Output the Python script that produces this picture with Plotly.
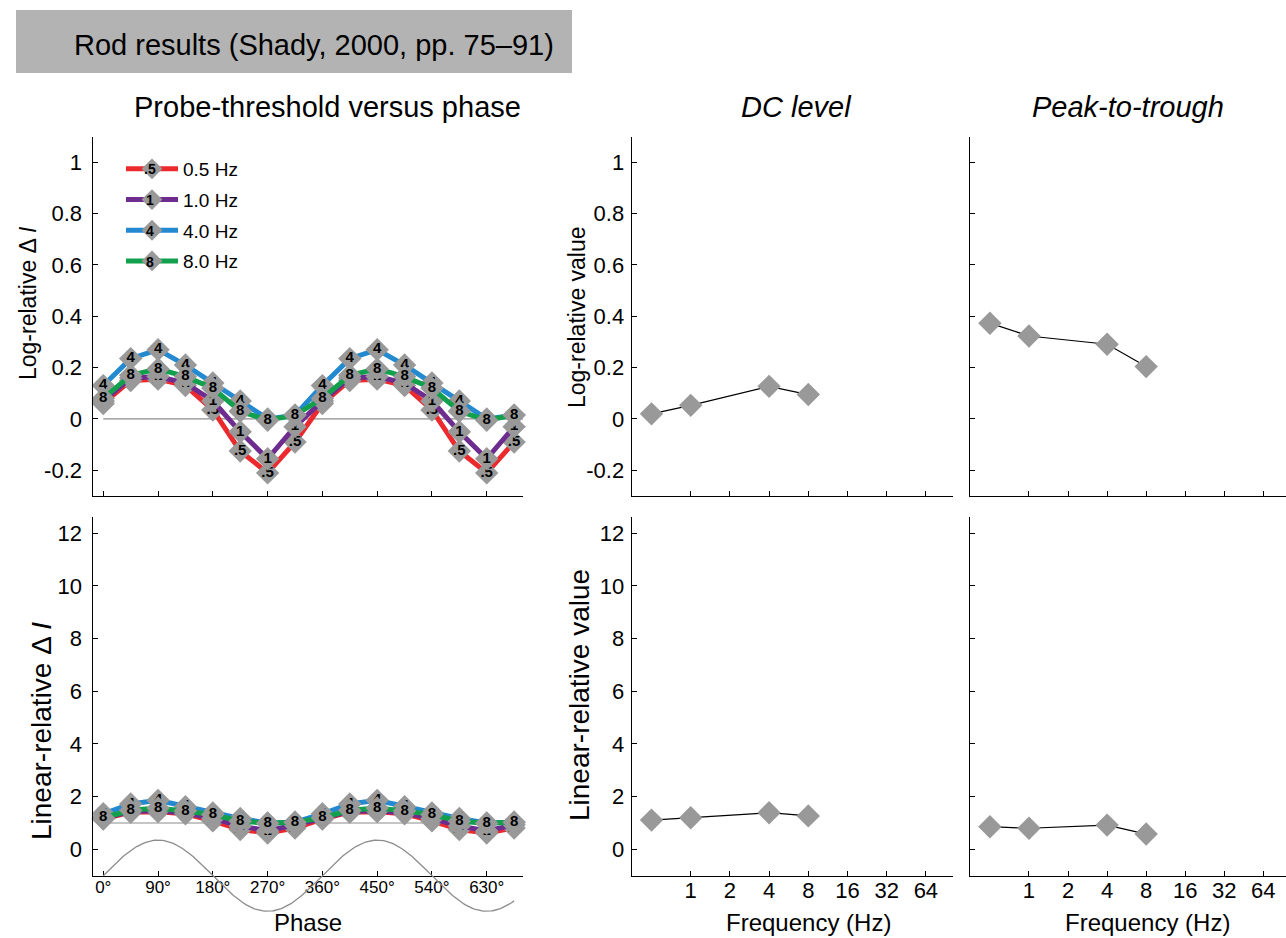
import numpy as np
import plotly.graph_objects as go

W, H = 1286, 938
FONT = "Liberation Sans, Arial, Helvetica, sans-serif"

# ---------------- data ----------------
phase_deg = [0, 45, 90, 135, 180, 225, 270, 315, 360, 405, 450, 495, 540, 585, 630, 675]
phase_ticks = [0, 90, 180, 270, 360, 450, 540, 630]
phase_ticktext = ["0°", "90°", "180°", "270°", "360°", "450°", "540°", "630°"]

series_names = ["0.5 Hz", "1.0 Hz", "4.0 Hz", "8.0 Hz"]
series_labels = [".5", "1", "4", "8"]
series_colors = ["#ec2a2e", "#6d2c8e", "#2389d0", "#12a04c"]

# log-relative probe threshold (delta I) per phase
log_05 = [0.06, 0.15, 0.155, 0.13, 0.035, -0.125, -0.21, -0.09,
          0.06, 0.15, 0.155, 0.13, 0.035, -0.125, -0.21, -0.09]
log_1 = [0.07, 0.16, 0.165, 0.14, 0.07, -0.05, -0.155, -0.03,
         0.07, 0.16, 0.165, 0.14, 0.07, -0.05, -0.155, -0.03]
log_4 = [0.13, 0.235, 0.27, 0.21, 0.14, 0.07, 0.0, 0.015,
         0.13, 0.235, 0.27, 0.21, 0.14, 0.07, 0.0, 0.015]
log_8 = [0.08, 0.17, 0.195, 0.165, 0.12, 0.03, -0.005, 0.015,
         0.08, 0.17, 0.195, 0.165, 0.12, 0.03, -0.005, 0.015]

# linear-relative probe threshold (delta I) per phase
lin_05 = [1.15, 1.41, 1.43, 1.35, 1.08, 0.75, 0.62, 0.81,
          1.15, 1.41, 1.43, 1.35, 1.08, 0.75, 0.62, 0.81]
lin_1 = [1.17, 1.45, 1.46, 1.38, 1.17, 0.89, 0.70, 0.93,
         1.17, 1.45, 1.46, 1.38, 1.17, 0.89, 0.70, 0.93]
lin_4 = [1.35, 1.72, 1.86, 1.62, 1.38, 1.17, 1.00, 1.03,
         1.35, 1.72, 1.86, 1.62, 1.38, 1.17, 1.00, 1.03]
lin_8 = [1.20, 1.48, 1.57, 1.46, 1.32, 1.07, 0.99, 1.03,
         1.20, 1.48, 1.57, 1.46, 1.32, 1.07, 0.99, 1.03]

freq_hz = [0.5, 1, 4, 8]
freq_ticks = [1, 2, 4, 8, 16, 32, 64]
dc_log = [0.02, 0.053, 0.127, 0.095]
pt_log = [0.373, 0.323, 0.291, 0.204]
dc_lin = [1.11, 1.20, 1.39, 1.27]
pt_lin = [0.86, 0.80, 0.92, 0.58]

log_ticks = [-0.2, 0, 0.2, 0.4, 0.6, 0.8, 1]
log_ticktext = ["-0.2", "0", "0.2", "0.4", "0.6", "0.8", "1"]
lin_ticks = [0, 2, 4, 6, 8, 10, 12]
lin_ticktext = ["0", "2", "4", "6", "8", "10", "12"]
log_baseline = 0
lin_baseline = 1

# stimulus (sinusoidal modulation) drawn under the linear panel
stim_offset = -1.0
stim_amp = 1.35
stim_phase = np.linspace(0, 675, 271)
stim_wave = stim_offset + stim_amp * np.sin(np.deg2rad(stim_phase))

log_series = [log_05, log_1, log_4, log_8]
lin_series = [lin_05, lin_1, lin_4, lin_8]

# ---------------- layout helpers ----------------
def fx(p):
    return p / W

def fy(p):
    return 1 - p / H

LEFT = [fx(92.5), fx(523)]
MID = [fx(631.7), fx(953.3)]
RIGHT = [fx(970), 1.0]
TOP = [fy(496), fy(136.5)]
BOT = [fy(875.7), fy(517.3)]
STIM = [fy(920), fy(517.3)]

PHASE_RANGE = [-17.7, 689.6]
LOG_RANGE = [-0.3, 1.1]
LIN_RANGE = [-1.0, 12.6]
STIM_RANGE = [LIN_RANGE[1] - (920 - 517.3) / (875.7 - 517.3) * (LIN_RANGE[1] - LIN_RANGE[0]), LIN_RANGE[1]]
FREQ_RANGE_MID = [np.log10(2 ** -1.505), np.log10(2 ** 6.70)]
FREQ_RANGE_RIGHT = [np.log10(2 ** -1.51), np.log10(2 ** 6.58)]

fig = go.Figure()

# stimulus waveform (own hidden axes, drawn first so data sit above it)
fig.add_trace(go.Scatter(x=stim_phase, y=stim_wave, mode="lines",
                         line=dict(color="#8c8c8c", width=1.3),
                         xaxis="x7", yaxis="y7", showlegend=False, hoverinfo="skip"))

# baselines
fig.add_trace(go.Scatter(x=[phase_deg[0], PHASE_RANGE[1]], y=[log_baseline, log_baseline],
                         mode="lines", line=dict(color="#8c8c8c", width=1.2),
                         xaxis="x", yaxis="y", showlegend=False, hoverinfo="skip"))
fig.add_trace(go.Scatter(x=[phase_deg[0], PHASE_RANGE[1]], y=[lin_baseline, lin_baseline],
                         mode="lines", line=dict(color="#8c8c8c", width=1.2),
                         xaxis="x4", yaxis="y4", showlegend=False, hoverinfo="skip"))

marker = dict(symbol="diamond", size=18, color="#999999", line=dict(width=0))
tfont = dict(family=FONT, size=15, color="black", weight="bold")

for name, lab, col, lv, linv in zip(series_names, series_labels, series_colors, log_series, lin_series):
    fig.add_trace(go.Scatter(x=phase_deg, y=lv, mode="lines+markers+text", name=name,
                             legendgroup=name,
                             text=[lab] * len(phase_deg), textposition="middle center",
                             textfont=tfont, line=dict(color=col, width=5),
                             marker=marker, xaxis="x", yaxis="y", cliponaxis=False))
    fig.add_trace(go.Scatter(x=phase_deg, y=linv, mode="lines+markers+text", name=name,
                             legendgroup=name, showlegend=False,
                             text=[lab] * len(phase_deg), textposition="middle center",
                             textfont=tfont, line=dict(color=col, width=5),
                             marker=marker, xaxis="x4", yaxis="y4", cliponaxis=False))

fmarker = dict(symbol="diamond", size=18, color="#999999", line=dict(width=0))
fline = dict(color="black", width=1.2)
for xa, ya, vals in [("x2", "y2", dc_log), ("x3", "y3", pt_log),
                     ("x5", "y5", dc_lin), ("x6", "y6", pt_lin)]:
    fig.add_trace(go.Scatter(x=freq_hz, y=vals, mode="lines+markers", line=fline,
                             marker=fmarker, xaxis=xa, yaxis=ya, showlegend=False,
                             cliponaxis=False))

axis_common = dict(showline=True, linecolor="black", linewidth=1.2, ticks="inside",
                   ticklen=5, tickcolor="black", tickwidth=1, showgrid=False,
                   zeroline=False, mirror=False,
                   tickfont=dict(family=FONT, size=22, color="black"))

def phase_axis(anchor, labels):
    d = dict(axis_common, domain=LEFT, range=PHASE_RANGE, anchor=anchor,
             tickmode="array", tickvals=phase_ticks, ticktext=phase_ticktext,
             showticklabels=labels, ticklabelstandoff=-4)
    d["tickfont"] = dict(family=FONT, size=17, color="black")
    return d

def freq_axis(anchor, dom, rng, labels):
    return dict(axis_common, type="log", domain=dom, range=rng, anchor=anchor,
                tickmode="array", tickvals=freq_ticks,
                ticktext=[str(v) for v in freq_ticks], showticklabels=labels,
                ticklabelstandoff=-5,
                tickfont=dict(family=FONT, size=22, color="black"))

def val_axis(anchor, dom, rng, ticks, ttext, labels, standoff=5):
    return dict(axis_common, domain=dom, range=rng, anchor=anchor,
                tickmode="array", tickvals=ticks, ticktext=ttext,
                showticklabels=labels, ticklabelstandoff=standoff)

fig.update_layout(
    width=W, height=H, margin=dict(l=0, r=0, t=0, b=0),
    paper_bgcolor="white", plot_bgcolor="rgba(0,0,0,0)",
    font=dict(family=FONT, color="black"),
    xaxis=phase_axis("y", False),
    yaxis=val_axis("x", TOP, LOG_RANGE, log_ticks, log_ticktext, True),
    xaxis2=freq_axis("y2", MID, FREQ_RANGE_MID, False),
    yaxis2=val_axis("x2", TOP, LOG_RANGE, log_ticks, log_ticktext, True, 2),
    xaxis3=freq_axis("y3", RIGHT, FREQ_RANGE_RIGHT, False),
    yaxis3=val_axis("x3", TOP, LOG_RANGE, log_ticks, log_ticktext, False),
    xaxis4=phase_axis("y4", True),
    yaxis4=val_axis("x4", BOT, LIN_RANGE, lin_ticks, lin_ticktext, True),
    xaxis5=freq_axis("y5", MID, FREQ_RANGE_MID, True),
    yaxis5=val_axis("x5", BOT, LIN_RANGE, lin_ticks, lin_ticktext, True, 2),
    xaxis6=freq_axis("y6", RIGHT, FREQ_RANGE_RIGHT, True),
    yaxis6=val_axis("x6", BOT, LIN_RANGE, lin_ticks, lin_ticktext, False),
    xaxis7=dict(domain=LEFT, range=PHASE_RANGE, anchor="y7", visible=False),
    yaxis7=dict(domain=STIM, range=STIM_RANGE, anchor="x7", visible=False),
    showlegend=True,
    legend=dict(x=fx(121), y=fy(150), xanchor="left", yanchor="top",
                bgcolor="rgba(0,0,0,0)", font=dict(family=FONT, size=19, color="black"),
                traceorder="grouped", tracegroupgap=3, itemwidth=52),
)

annotations = []
def text_at(px, py, txt, size, xanchor="center", angle=0, italic=False):
    annotations.append(dict(x=fx(px), y=fy(py), xref="paper", yref="paper", text=txt,
                            showarrow=False, xanchor=xanchor, yanchor="middle",
                            textangle=angle,
                            font=dict(family=FONT, size=size, color="black",
                                      style="italic" if italic else "normal")))

text_at(72, 45, "Rod results (Shady, 2000, pp. 75–91)", 29, xanchor="left")
text_at(327, 107, "Probe-threshold versus phase", 29)
text_at(796, 107, "DC level", 29, italic=True)
text_at(1128, 107, "Peak-to-trough", 29, italic=True)
text_at(28, 303, "Log-relative Δ <i>I</i>", 23, angle=-90)
text_at(41, 731, "Linear-relative Δ <i>I</i>", 28, angle=-90)
text_at(577, 317, "Log-relative value", 23, angle=-90)
text_at(579, 695, "Linear-relative value", 28, angle=-90)
text_at(308, 922, "Phase", 24)
text_at(808, 922, "Frequency (Hz)", 24)
text_at(1147, 922, "Frequency (Hz)", 24)

# numbers on legend symbols
for i, lab in enumerate(series_labels):
    annotations.append(dict(x=fx(150), y=fy(169 + 31 * i), xref="paper", yref="paper",
                            text=lab, showarrow=False, xanchor="center", yanchor="middle",
                            font=dict(family=FONT, size=14, color="black", weight="bold")))

fig.update_layout(annotations=annotations)

fig.add_shape(type="rect", xref="paper", yref="paper", x0=fx(16), x1=fx(572),
              y0=fy(73), y1=fy(10), fillcolor="#b3b3b3", line=dict(width=0), layer="below")

fig.write_html("out.html")
